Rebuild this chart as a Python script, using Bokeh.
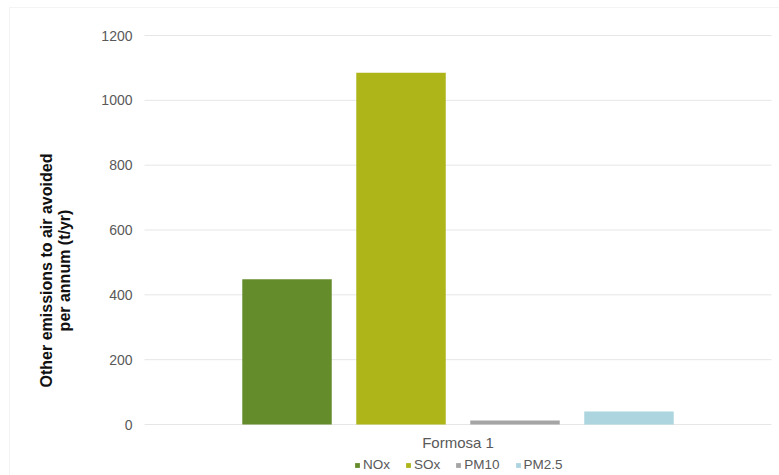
from bokeh.plotting import figure
from bokeh.models import (Range1d, Legend, LegendItem, Label, BoxAnnotation,
                          FixedTicker, ColumnDataSource)
from bokeh.embed import file_html
from bokeh.resources import INLINE

# ---- data ----
categories = ["Formosa 1"]
series = ["NOx", "SOx", "PM10", "PM2.5"]
values = [448, 1085, 12, 40]
y_ticks = [0, 200, 400, 600, 800, 1000, 1200]
y_label_lines = ["Other emissions to air avoided", "per annum (t/yr)"]

# ---- styles / layout ----
colors = ["#658c2b", "#aeb519", "#a5a5a5", "#acd5e0"]
offsets = [-0.2727, -0.0909, 0.0909, 0.2727]
bar_width = 0.1427
FONT = "Liberation Sans"
W, H = 779, 475
PL, PR, PT, PB = 144, 771, 35, 424       # plot area in canvas pixels
Y_MAX = y_ticks[-1]
NCAT = len(categories)

def px_x(px):   # canvas px -> x data
    return (px - PL) * NCAT / (PR - PL)

def px_y(py):   # canvas px (from top) -> y data
    return (PB - py) * Y_MAX / (PB - PT)

cat_pos = [i + 0.5 for i in range(NCAT)]

p = figure(x_range=Range1d(px_x(0), px_x(W)), y_range=Range1d(px_y(H), px_y(0)),
           width=W, height=H, output_backend="svg", toolbar_location=None,
           min_border=0)
p.outline_line_color = None
p.background_fill_color = "white"
p.border_fill_color = "white"
p.xgrid.visible = False
p.ygrid.visible = False

# chart-area border (left/top visible)
p.add_layout(BoxAnnotation(left=px_x(9), top=px_y(7), right=px_x(W + 20),
                           bottom=px_y(H + 20), fill_alpha=0,
                           line_color="#d9d9d9", line_width=1))

# horizontal gridlines
p.segment(x0=[0] * len(y_ticks), x1=[NCAT] * len(y_ticks), y0=y_ticks,
          y1=y_ticks, line_color="#e6e6e6", line_width=1)

items = []
for s, v, c, off in zip(series, values, colors, offsets):
    src = ColumnDataSource(dict(x=[cp + off for cp in cat_pos], val=[v]))
    r = p.vbar(x="x", top="val", width=bar_width,
               source=src, fill_color=c, line_color=None)
    items.append(LegendItem(label=s, renderers=[r]))

p.yaxis.ticker = FixedTicker(ticks=y_ticks)
p.xaxis.ticker = FixedTicker(ticks=cat_pos)
p.xaxis.major_label_overrides = {cp: c for cp, c in zip(cat_pos, categories)}
p.yaxis.fixed_location = 0
p.xaxis.fixed_location = 0
for ax in (p.xaxis, p.yaxis):
    ax.axis_line_color = None
    ax.major_tick_line_color = None
    ax.minor_tick_line_color = None
    ax.major_tick_out = 0
    ax.major_tick_in = 0
    ax.major_label_text_font = FONT
    ax.major_label_text_color = "#595959"
p.yaxis.major_label_text_font_size = "14px"
p.xaxis.major_label_text_font_size = "15px"
p.yaxis.major_label_standoff = 12
p.xaxis.major_label_standoff = 9

# y-axis title, two centred lines
for line, cx in zip(y_label_lines, (45.5, 63.5)):
    p.add_layout(Label(x=px_x(cx), y=px_y(270), text=line, angle=90,
                       angle_units="deg", text_align="center",
                       text_baseline="middle", text_font_size="16px",
                       text_font_style="bold", text_font=FONT,
                       text_color="#111111"))

legend = Legend(items=items, orientation="horizontal", location=(354, 3),
                glyph_width=6, glyph_height=6, label_standoff=3, spacing=15,
                padding=0, margin=0, border_line_color=None,
                background_fill_alpha=0, label_text_font_size="13.5px",
                label_text_color="#595959", label_text_font=FONT,
                label_height=13)
p.add_layout(legend)

open("out.html", "w").write(file_html(p, INLINE))
